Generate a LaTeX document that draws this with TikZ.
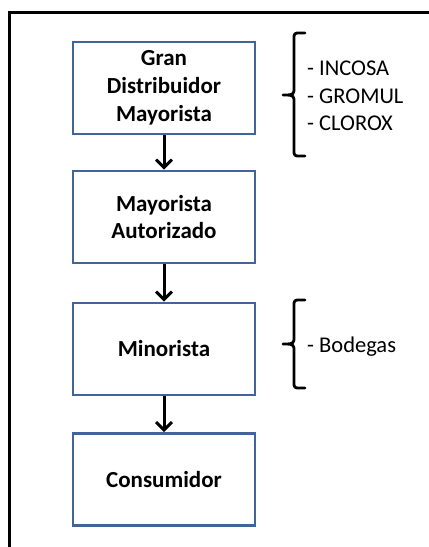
\documentclass[tikz,border=0pt]{standalone}
\usepackage{fontspec}
\setmainfont{Carlito}
\usetikzlibrary{arrows.meta}
\definecolor{boxblue}{HTML}{41659A}
\begin{document}
\begin{tikzpicture}[x=1pt,y=-1pt,
  stagebox/.style={draw=boxblue,line width=2.6pt,minimum width=182pt,minimum height=92pt,
    align=center,inner sep=0pt,font=\fontsize{23}{27.8}\selectfont\bfseries},
  flow/.style={line width=3pt,-{Straight Barb[length=8pt,width=16pt,line width=3pt]}},
  bracepath/.style={line width=2.8pt,line cap=round,line join=round},
  listtext/.style={anchor=west,inner sep=0pt,font=\fontsize{22.5}{27.5}\selectfont}]
\useasboundingbox (0,0) rectangle (429,547);
\clip (0,0) rectangle (429,547);
\draw[line width=3pt] (9,12) rectangle (445,565);
\node[stagebox] (b1) at (164,88) {Gran\\Distribuidor\\Mayorista};
\node[stagebox] (b2) at (164,217) {Mayorista\\Autorizado};
\node[stagebox] (b3) at (164,349) {Minorista};
\node[stagebox] (b4) at (164,479.5) {Consumidor};
\draw[flow] (b1.south) -- (b2.north);
\draw[flow] (b2.south) -- (b3.north);
\draw[flow] (b3.south) -- (b4.north);
% braces
\coordinate (t1) at (283,95);
\draw[bracepath] (305,33) -- (297,33) to[out=180,in=90] (294,36) -- (294,91) to[out=-90,in=0] (t1) to[out=0,in=90] (294,99) -- (294,153) to[out=-90,in=180] (297,156) -- (305,156);
\coordinate (t2) at (283,344);
\draw[bracepath] (305,300) -- (297,300) to[out=180,in=90] (294,303) -- (294,340) to[out=-90,in=0] (t2) to[out=0,in=90] (294,348) -- (294,385) to[out=-90,in=180] (297,388) -- (305,388);
\node[listtext] (l1) at (307,68) {- INCOSA};
\node[listtext] (l2) at (307,96) {- GROMUL};
\node[listtext] (l3) at (307,123) {- CLOROX};
\node[listtext] (l4) at (307,347) {- Bodegas};
\end{tikzpicture}
\end{document}
